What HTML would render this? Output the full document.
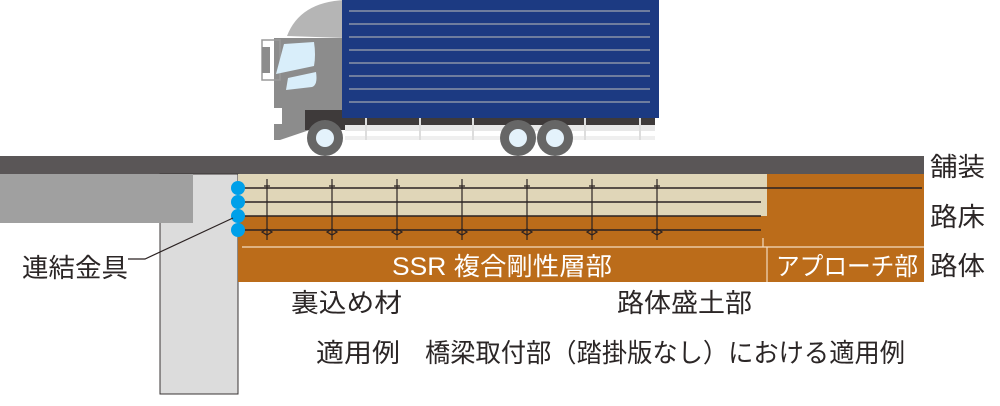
<!DOCTYPE html>
<html><head><meta charset="utf-8"><style>
html,body{margin:0;padding:0;background:#fff;}
svg{display:block;}
text{font-family:"Liberation Sans","Noto Sans CJK JP",sans-serif;}
</style></head><body>
<svg width="1000" height="406" viewBox="0 0 1000 406" xmlns="http://www.w3.org/2000/svg">
<!-- truck -->
<path d="M287 36 Q300 2 345 0 L345 38 Z" fill="#b5b5b5"/>
<path d="M274 38 L345 38 L345 118 L280 140 L274 140 Z" fill="#8c8c8c"/>
<rect x="262" y="40" width="18" height="40" fill="none" stroke="#9a9a9a" stroke-width="1.5"/>
<rect x="262" y="47" width="8" height="26" fill="#8c8c8c"/>
<path d="M284 44 L314 42 Q316 55 314 66 L276 74 Z" fill="#d9eefa"/>
<path d="M288 78 L316 72 Q318 85 312 87 L286 90 Z" fill="#d9eefa"/>
<rect x="274" y="108" width="8" height="16" fill="#fff"/>
<rect x="305" y="110" width="350" height="20" fill="#3e3a3a"/>
<rect x="345" y="125" width="310" height="6" fill="#e8e8e8"/>
<rect x="345" y="136" width="310" height="4" fill="#efefef"/>
<g stroke="#ddd" stroke-width="2"><line x1="366" y1="118" x2="366" y2="140"/><line x1="420" y1="118" x2="420" y2="140"/><line x1="473" y1="118" x2="473" y2="140"/><line x1="585" y1="118" x2="585" y2="140"/><line x1="640" y1="118" x2="640" y2="140"/></g>
<rect x="342" y="0" width="317" height="118" fill="#1c3a82"/>
<g stroke="#8a93a8" stroke-width="1.5">
<line x1="349" y1="11" x2="650" y2="11"/><line x1="349" y1="24" x2="650" y2="24"/><line x1="349" y1="37" x2="650" y2="37"/><line x1="349" y1="50" x2="650" y2="50"/><line x1="349" y1="63" x2="650" y2="63"/><line x1="349" y1="76" x2="650" y2="76"/><line x1="349" y1="89" x2="650" y2="89"/><line x1="349" y1="102" x2="650" y2="102"/>
</g>
<g fill="#666"><circle cx="325" cy="138" r="18"/><circle cx="518" cy="138" r="18"/><circle cx="555" cy="138" r="18"/></g>
<g fill="#e4f2fb"><circle cx="325" cy="138" r="9"/><circle cx="518" cy="138" r="9"/><circle cx="555" cy="138" r="9"/></g>
<!-- paving -->
<rect x="0" y="156" width="924" height="18" fill="#5a5657"/>
<!-- abutment -->
<rect x="160" y="174" width="78" height="220" fill="#dcdcdc" stroke="#3a3535" stroke-width="1"/>
<rect x="0" y="174" width="193" height="49" fill="#a0a0a0"/>
<!-- layers -->
<rect x="238" y="174" width="686" height="108" fill="#bb6c1a"/>
<rect x="238" y="174" width="529" height="42" fill="#e0d6b8"/>
<line x1="242" y1="247" x2="924" y2="247" stroke="#f3dcc0" stroke-width="1.2"/>
<line x1="767" y1="247" x2="767" y2="282" stroke="#f3dcc0" stroke-width="1.2"/>
<line x1="763" y1="238" x2="763" y2="247" stroke="#f3dcc0" stroke-width="1.2"/>
<g stroke="#2b2222" stroke-width="1.6">
<line x1="238" y1="188" x2="922" y2="188"/>
<line x1="238" y1="202" x2="761" y2="202"/>
<line x1="238" y1="216" x2="761" y2="216"/>
<line x1="238" y1="230" x2="761" y2="230"/>
</g>
<g stroke="#2b2222" stroke-width="1.2" fill="none">
<path d="M267 179V240M264 186h6M262 232l5-3 5 3-5 3z"/>
<path d="M332 179V240M329 186h6M327 232l5-3 5 3-5 3z"/>
<path d="M397 179V240M394 186h6M392 232l5-3 5 3-5 3z"/>
<path d="M462 179V240M459 186h6M457 232l5-3 5 3-5 3z"/>
<path d="M527 179V240M524 186h6M522 232l5-3 5 3-5 3z"/>
<path d="M592 179V240M589 186h6M587 232l5-3 5 3-5 3z"/>
<path d="M657 179V240M654 186h6M652 232l5-3 5 3-5 3z"/>
</g>
<g fill="#00a0e9"><circle cx="238" cy="188" r="7"/><circle cx="238" cy="202" r="7"/><circle cx="238" cy="216" r="7"/><circle cx="238" cy="230" r="7"/></g>
<polyline points="128,259 145,259 233,218" fill="none" stroke="#2b2222" stroke-width="1.2"/>
<!-- text -->
<g fill="#fff" font-size="25">
<text x="392" y="275" textLength="220" lengthAdjust="spacingAndGlyphs">SSR 複合剛性層部</text>
<text x="776" y="275" textLength="142" lengthAdjust="spacingAndGlyphs">アプローチ部</text>
</g>
<g fill="#2b2626" font-size="26">
<text x="930" y="176" textLength="55" lengthAdjust="spacingAndGlyphs">舗装</text>
<text x="930" y="226" textLength="55" lengthAdjust="spacingAndGlyphs">路床</text>
<text x="930" y="275" textLength="55" lengthAdjust="spacingAndGlyphs">路体</text>
<text x="22" y="277" textLength="106" lengthAdjust="spacingAndGlyphs">連結金具</text>
<text x="291" y="312" textLength="111" lengthAdjust="spacingAndGlyphs">裏込め材</text>
<text x="617" y="312" textLength="135" lengthAdjust="spacingAndGlyphs">路体盛土部</text>
<text x="316" y="362" textLength="84" lengthAdjust="spacingAndGlyphs">適用例</text>
<text x="425" y="362" textLength="480" lengthAdjust="spacingAndGlyphs">橋梁取付部（踏掛版なし）における適用例</text>
</g>
</svg>
</body></html>
